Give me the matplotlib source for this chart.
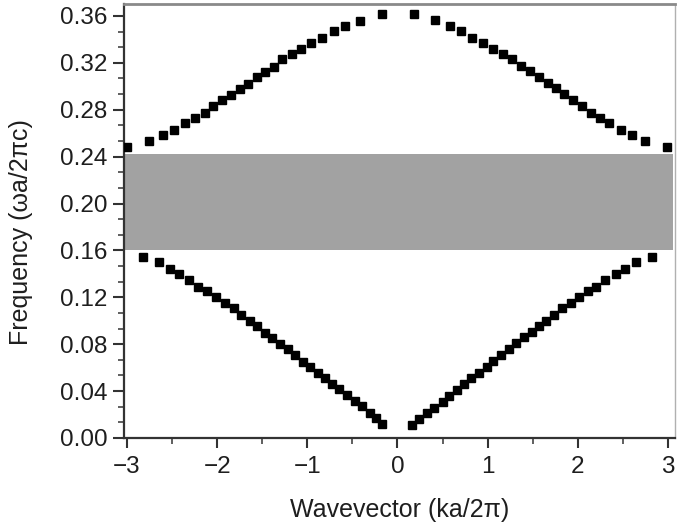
import matplotlib
matplotlib.use("Agg")
import matplotlib.pyplot as plt
from matplotlib.ticker import MultipleLocator, FormatStrFormatter

plt.rcParams['font.family'] = ['Liberation Sans', 'DejaVu Sans']

# Upper band, left and right branches
k_up_left = [-2.998, -2.754, -2.599, -2.481, -2.359, -2.248, -2.137, -2.045, -1.941, -1.842,
             -1.742, -1.658, -1.554, -1.465, -1.373, -1.277, -1.166, -1.066, -0.956, -0.834,
             -0.709, -0.587, -0.413, -0.169]
f_up_left = [0.2485, 0.2533, 0.2587, 0.2627, 0.2684, 0.2727, 0.2775, 0.2832, 0.2883, 0.2926,
             0.2974, 0.3020, 0.3077, 0.3125, 0.3167, 0.3230, 0.3275, 0.3321, 0.3367, 0.3415,
             0.3472, 0.3517, 0.3560, 0.3617]
k_up_right = [0.181, 0.421, 0.584, 0.705, 0.827, 0.945, 1.054, 1.166, 1.270, 1.370,
              1.470, 1.565, 1.664, 1.757, 1.842, 1.949, 2.052, 2.145, 2.248, 2.348,
              2.484, 2.606, 2.746, 2.993]
f_up_right = [0.3617, 0.3566, 0.3517, 0.3472, 0.3415, 0.3372, 0.3321, 0.3275, 0.3230, 0.3176,
              0.3130, 0.3082, 0.3025, 0.2988, 0.2932, 0.2883, 0.2832, 0.2775, 0.2727, 0.2684,
              0.2627, 0.2587, 0.2533, 0.2485]

# Lower band, left and right branches
k_low_left = [-2.827, -2.643, -2.525, -2.422, -2.311, -2.212, -2.112, -2.016, -1.916, -1.816,
              -1.731, -1.639, -1.558, -1.473, -1.392, -1.307, -1.215, -1.141, -1.049, -0.967,
              -0.883, -0.808, -0.723, -0.650, -0.561, -0.476, -0.390, -0.302, -0.236, -0.169]
f_low_left = [0.1546, 0.1504, 0.1442, 0.1396, 0.1348, 0.1291, 0.1256, 0.1200, 0.1154, 0.1106,
              0.1049, 0.1000, 0.0955, 0.0898, 0.0850, 0.0802, 0.0757, 0.0708, 0.0651, 0.0603,
              0.0557, 0.0509, 0.0461, 0.0416, 0.0367, 0.0319, 0.0273, 0.0216, 0.0168, 0.0117]
k_low_right = [0.163, 0.244, 0.324, 0.410, 0.502, 0.576, 0.657, 0.742, 0.816, 0.908,
               0.989, 1.063, 1.148, 1.232, 1.315, 1.406, 1.492, 1.565, 1.647, 1.739,
               1.824, 1.924, 2.016, 2.108, 2.201, 2.304, 2.422, 2.525, 2.644, 2.821]
f_low_right = [0.0111, 0.0160, 0.0211, 0.0253, 0.0310, 0.0358, 0.0409, 0.0461, 0.0509, 0.0557,
               0.0608, 0.0659, 0.0708, 0.0757, 0.0808, 0.0864, 0.0907, 0.0955, 0.1000, 0.1049,
               0.1106, 0.1149, 0.1200, 0.1256, 0.1291, 0.1348, 0.1396, 0.1442, 0.1504, 0.1546]

# Band gap
gap_bottom = 0.160
gap_top = 0.242

fig = plt.figure(figsize=(6.77, 5.27), dpi=100)
ax = fig.add_axes([124/677, 1 - 438/527, (675 - 124)/677, (438 - 4)/527])

ax.axhspan(gap_bottom, gap_top, xmin=0.0, xmax=0.996, color='#a2a2a2', lw=0, zorder=1)

for kk, ff in [(k_up_left, f_up_left), (k_up_right, f_up_right),
               (k_low_left, f_low_left), (k_low_right, f_low_right)]:
    ax.plot(kk, ff, ls='none', marker='s', ms=5.3, color='black', mec='black', zorder=3)

ax.set_xlim(-3.033, 3.078)
ax.set_ylim(0.0, 0.3702)

ax.xaxis.set_major_locator(MultipleLocator(1))
ax.xaxis.set_minor_locator(MultipleLocator(0.5))
ax.yaxis.set_major_locator(MultipleLocator(0.04))
ax.yaxis.set_minor_locator(MultipleLocator(0.04 / 3))
ax.yaxis.set_major_formatter(FormatStrFormatter('%.2f'))

ax.tick_params(axis='both', which='major', labelsize=17.5, direction='out', width=1.5,
               colors='#333333', labelcolor='#1e1e1e')
ax.tick_params(axis='x', which='major', length=7, pad=6)
ax.tick_params(axis='y', which='major', length=8, pad=4)
ax.tick_params(axis='both', which='minor', direction='out', color='#444444', width=1.2, length=4)

ax.spines['left'].set_color('#333333')
ax.spines['left'].set_linewidth(1.6)
ax.spines['bottom'].set_color('#333333')
ax.spines['bottom'].set_linewidth(1.6)
ax.spines['top'].set_color('#8a8a8a')
ax.spines['top'].set_linewidth(2.0)
ax.spines['right'].set_color('#b0b0b0')
ax.spines['right'].set_linewidth(1.0)

ax.set_xlabel('Wavevector (ka/2\u03c0)', fontsize=18, color='#1e1e1e', labelpad=14)
ax.set_ylabel('Frequency (\u03c9a/2\u03c0c)', fontsize=18, color='#1e1e1e')
ax.yaxis.set_label_coords(-0.165, 0.475)

fig.savefig('out.png', dpi=100)
